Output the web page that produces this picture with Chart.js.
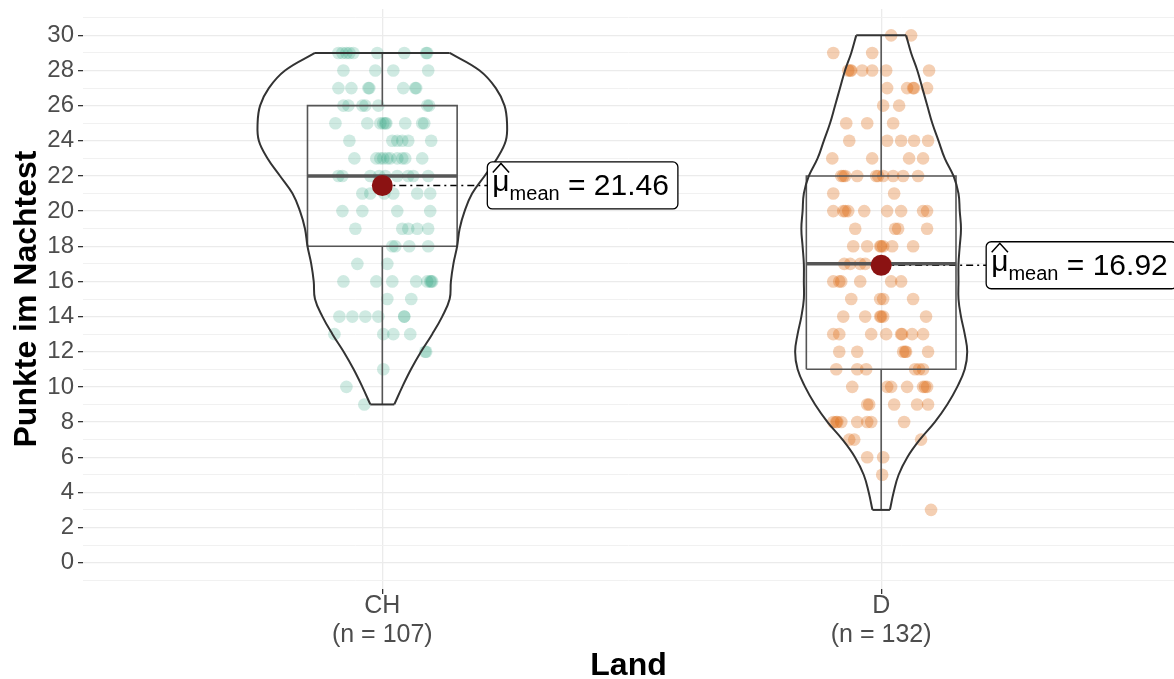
<!DOCTYPE html>
<html>
<head>
<meta charset="utf-8">
<script src="https://cdn.jsdelivr.net/npm/chart.js@4"></script>
<style>
  body { margin: 0; background: #fff; }
</style>
</head>
<body>
<canvas id="chart" width="1174" height="679"></canvas>
<script>
const categories = ["CH", "D"];
const groupSizes = [107, 132];
const means = [21.46, 16.92];
const yTickLabels = [0, 2, 4, 6, 8, 10, 12, 14, 16, 18, 20, 22, 24, 26, 28, 30];

// lower whisker, q1, median, q3, upper whisker
const chBox = [9, 18, 22, 26, 29];
const dBox = [3, 11, 17, 22, 30];

// violin outline: relative half-width read at each score
const chViolinY = [9, 10, 11, 12, 13, 14, 15, 16, 17, 18, 19, 20, 21, 22, 23, 24, 25, 26, 27, 28, 29];
const chViolinW = [0.096, 0.16, 0.23, 0.31, 0.40, 0.48, 0.54, 0.55, 0.57, 0.60, 0.62, 0.66, 0.72, 0.82, 0.92, 0.99, 1.0, 0.98, 0.91, 0.78, 0.54];
const dViolinY = [3, 4, 5, 6, 7, 8, 9, 10, 11, 12, 13, 14, 15, 16, 17, 18, 19, 20, 21, 22, 23, 24, 25, 26, 27, 28, 29, 30];
const dViolinW = [0.07, 0.10, 0.14, 0.21, 0.31, 0.43, 0.53, 0.61, 0.67, 0.69, 0.67, 0.64, 0.62, 0.62, 0.62, 0.63, 0.64, 0.63, 0.62, 0.58, 0.51, 0.46, 0.41, 0.37, 0.33, 0.29, 0.24, 0.20];

// jittered raw scores: [jitter in category units, score]
const chPoints = [
  [-0.088, 29], [-0.080, 29], [-0.072, 29], [-0.066, 29], [-0.058, 29], [-0.010, 29], [0.044, 29], [0.088, 29], [0.090, 29],
  [-0.078, 28], [-0.014, 28], [0.022, 28], [0.092, 28],
  [-0.088, 27], [-0.062, 27], [-0.028, 27], [-0.026, 27], [0.042, 27], [0.068, 27], [0.066, 27],
  [-0.078, 26], [-0.068, 26], [-0.040, 26], [-0.034, 26], [-0.008, 26], [0.090, 26], [0.094, 26],
  [-0.094, 25], [-0.030, 25], [-0.004, 25], [0.002, 25], [0.006, 25], [0.008, 25], [0.046, 25], [0.080, 25], [0.084, 25],
  [-0.066, 24], [0.020, 24], [0.030, 24], [0.040, 24], [0.052, 24], [0.098, 24],
  [-0.056, 23], [-0.012, 23], [-0.004, 23], [0.002, 23], [0.010, 23], [0.016, 23], [0.030, 23], [0.040, 23], [0.046, 23], [0.080, 23],
  [-0.088, 22], [-0.080, 22], [-0.024, 22], [-0.006, 22], [0.006, 22], [0.030, 22], [0.052, 22], [0.062, 22], [0.092, 22],
  [-0.040, 21], [-0.024, 21], [0.004, 21], [0.022, 21], [0.070, 21], [0.096, 21],
  [-0.080, 20], [-0.040, 20], [0.030, 20], [0.096, 20],
  [-0.054, 19], [0.040, 19], [0.052, 19], [0.070, 19], [0.092, 19],
  [0.020, 18], [0.026, 18], [0.054, 18], [0.092, 18],
  [-0.050, 17], [0.010, 17],
  [-0.078, 16], [-0.012, 16], [0.020, 16], [0.068, 16], [0.090, 16], [0.096, 16], [0.098, 16], [0.100, 16],
  [0.010, 15], [0.058, 15],
  [-0.086, 14], [-0.060, 14], [-0.034, 14], [-0.008, 14], [0.044, 14], [0.044, 14],
  [-0.096, 13], [0.002, 13], [0.022, 13], [0.056, 13],
  [0.088, 12], [0.086, 12],
  [0.002, 11],
  [-0.072, 10],
  [-0.036, 9]
];
const dPoints = [
  [0.020, 30], [0.060, 30],
  [-0.096, 29], [-0.018, 29],
  [-0.066, 28], [-0.062, 28], [-0.060, 28], [-0.038, 28], [-0.018, 28], [0.010, 28], [0.096, 28],
  [0.012, 27], [0.052, 27], [0.064, 27], [0.066, 27], [0.092, 27],
  [0.004, 26], [0.036, 26],
  [-0.070, 25], [-0.028, 25], [0.024, 25],
  [-0.064, 24], [0.012, 24], [0.040, 24], [0.066, 24], [0.094, 24],
  [-0.098, 23], [-0.018, 23], [0.056, 23], [0.084, 23],
  [-0.080, 22], [-0.076, 22], [-0.072, 22], [-0.048, 22], [-0.010, 22], [-0.006, 22], [0.004, 22], [0.024, 22], [0.044, 22], [0.074, 22],
  [-0.096, 21], [0.026, 21],
  [-0.096, 20], [-0.076, 20], [-0.072, 20], [-0.066, 20], [-0.034, 20], [0.012, 20], [0.040, 20], [0.084, 20], [0.092, 20],
  [-0.052, 19], [0.028, 19], [0.034, 19], [0.092, 19],
  [-0.056, 18], [-0.028, 18], [-0.002, 18], [0.000, 18], [0.004, 18], [0.022, 18], [0.064, 18],
  [-0.074, 17], [-0.062, 17], [-0.042, 17], [-0.032, 17], [-0.006, 17], [0.000, 17], [0.010, 17],
  [-0.096, 16], [-0.084, 16], [-0.080, 16], [-0.042, 16], [0.020, 16], [0.040, 16],
  [-0.060, 15], [-0.002, 15], [0.004, 15], [0.064, 15],
  [-0.076, 14], [-0.032, 14], [-0.002, 14], [0.000, 14], [0.004, 14], [0.090, 14],
  [-0.096, 13], [-0.084, 13], [-0.020, 13], [0.010, 13], [0.040, 13], [0.042, 13], [0.062, 13], [0.084, 13],
  [-0.084, 12], [-0.048, 12], [0.044, 12], [0.048, 12], [0.050, 12], [0.094, 12],
  [-0.090, 11], [-0.048, 11], [-0.030, 11], [0.068, 11], [0.076, 11], [0.084, 11],
  [-0.058, 10], [0.012, 10], [0.020, 10], [0.052, 10], [0.084, 10], [0.088, 10], [0.092, 10],
  [-0.028, 9], [-0.024, 9], [0.026, 9], [0.072, 9], [0.094, 9],
  [-0.096, 8], [-0.090, 8], [-0.088, 8], [-0.080, 8], [-0.048, 8], [-0.028, 8], [-0.020, 8], [0.046, 8],
  [-0.064, 7], [-0.054, 7], [0.080, 7],
  [-0.028, 6], [0.004, 6],
  [0.002, 5],
  [0.100, 3]
];

const FONT = "'Liberation Sans', Arial, Helvetica, sans-serif";
const VIOLIN_HALF = 0.25;
const BOX_HALF = 0.15;
const BOX_COLOR = "#555555";
const VIOLIN_COLOR = "#333333";
const MEAN_COLOR = "#8b1212";
const LABEL_OFFSET = 105; // px from mean point to label box

function line(data, width, color, order, tension) {
  return {
    type: "line",
    data: data,
    borderColor: color,
    borderWidth: width,
    pointRadius: 0,
    fill: false,
    tension: tension || 0,
    order: order,
  };
}

function groupDatasets(i, points, box, vy, vw, color) {
  const cx = i + 1;
  const [lo, q1, med, q3, hi] = box;
  const ds = [];
  ds.push({
    type: "scatter",
    data: points.map((p) => ({ x: cx + p[0], y: p[1] })),
    pointRadius: 6.3,
    pointBackgroundColor: color,
    pointBorderWidth: 0,
    order: 4,
  });
  ds.push(line([
    { x: cx - BOX_HALF, y: q1 }, { x: cx + BOX_HALF, y: q1 },
    { x: cx + BOX_HALF, y: q3 }, { x: cx - BOX_HALF, y: q3 },
    { x: cx - BOX_HALF, y: q1 },
  ], 1.6, BOX_COLOR, 3));
  ds.push(line([{ x: cx - BOX_HALF, y: med }, { x: cx + BOX_HALF, y: med }], 3.5, BOX_COLOR, 3));
  ds.push(line([{ x: cx, y: lo }, { x: cx, y: q1 }], 1.6, BOX_COLOR, 3));
  ds.push(line([{ x: cx, y: q3 }, { x: cx, y: hi }], 1.6, BOX_COLOR, 3));

  const left = vy.map((y, k) => ({ x: cx - vw[k] * VIOLIN_HALF, y: y }));
  const right = vy.map((y, k) => ({ x: cx + vw[k] * VIOLIN_HALF, y: y }));
  const n = vy.length - 1;
  ds.push(line(left, 2, VIOLIN_COLOR, 2, 0.4));
  ds.push(line(right, 2, VIOLIN_COLOR, 2, 0.4));
  ds.push(line([left[0], right[0]], 2, VIOLIN_COLOR, 2));
  ds.push(line([left[n], right[n]], 2, VIOLIN_COLOR, 2));

  ds.push({
    type: "scatter",
    data: [{ x: cx, y: means[i] }],
    pointRadius: 10.5,
    pointBackgroundColor: MEAN_COLOR,
    pointBorderWidth: 0,
    order: 0,
  });
  return ds;
}

const datasets = [].concat(
  groupDatasets(0, chPoints, chBox, chViolinY, chViolinW, "rgba(27,158,119,0.21)"),
  groupDatasets(1, dPoints, dBox, dViolinY, dViolinW, "rgba(217,95,2,0.30)")
);

const meanLabels = {
  id: "meanLabels",
  beforeDatasetsDraw(chart) {
    const { ctx, scales } = chart;
    ctx.save();
    ctx.strokeStyle = "#000";
    ctx.lineWidth = 1.5;
    ctx.setLineDash([7, 4, 2, 4]);
    means.forEach((m, i) => {
      const px = scales.x.getPixelForValue(i + 1);
      const py = scales.y.getPixelForValue(m);
      ctx.beginPath();
      ctx.moveTo(px, py);
      ctx.lineTo(px + LABEL_OFFSET, py);
      ctx.stroke();
    });
    ctx.restore();
  },
  afterDatasetsDraw(chart) {
    const { ctx, scales } = chart;
    const mainFont = "30px " + FONT;
    const subFont = "20px " + FONT;
    means.forEach((m, i) => {
      const left = scales.x.getPixelForValue(i + 1) + LABEL_OFFSET;
      const cy = scales.y.getPixelForValue(m);
      const valText = "= " + m.toFixed(2);
      ctx.save();
      ctx.font = mainFont;
      const wMu = ctx.measureText("\u03bc").width;
      const wVal = ctx.measureText(" " + valText).width;
      ctx.font = subFont;
      const wSub = ctx.measureText("mean").width;
      const w = 5 + wMu + wSub + wVal + 9;
      const h = 47;
      ctx.beginPath();
      ctx.roundRect(left, cy - h / 2, w, h, 5);
      ctx.fillStyle = "#fff";
      ctx.fill();
      ctx.lineWidth = 1.3;
      ctx.strokeStyle = "#000";
      ctx.stroke();

      ctx.fillStyle = "#000";
      ctx.textBaseline = "alphabetic";
      ctx.textAlign = "left";
      let x = left + 5;
      ctx.font = mainFont;
      ctx.fillText("\u03bc", x, cy + 6);
      // hat over mu
      ctx.beginPath();
      ctx.lineWidth = 1.5;
      ctx.moveTo(x + 0.5, cy - 13);
      ctx.lineTo(x + wMu / 2, cy - 22);
      ctx.lineTo(x + wMu - 0.5, cy - 13);
      ctx.stroke();
      x += wMu;
      ctx.font = subFont;
      ctx.fillText("mean", x, cy + 15);
      x += wSub;
      ctx.font = mainFont;
      ctx.fillText(" " + valText, x, cy + 10);
      ctx.restore();
    });
  },
};

new Chart(document.getElementById("chart"), {
  type: "scatter",
  data: { datasets: datasets },
  options: {
    responsive: false,
    animation: false,
    events: [],
    layout: { autoPadding: false, padding: { top: 9, right: 0, bottom: 0, left: 0 } },
    plugins: { legend: { display: false }, tooltip: { enabled: false } },
    scales: {
      x: {
        type: "linear",
        min: 0.4,
        max: 2.587,
        afterBuildTicks: (s) => {
          s.ticks = categories.map((c, k) => ({ value: k + 1 }));
        },
        afterFit: (s) => {
          s.height = 90;
          s.paddingLeft = 0;
          s.paddingRight = 0;
        },
        ticks: {
          autoSkip: false,
          maxRotation: 0,
          padding: -2,
          color: "#4d4d4d",
          font: { family: FONT, size: 25, lineHeight: 1.15 },
          callback: (v) => [categories[v - 1], "(n = " + groupSizes[v - 1] + ")"],
        },
        grid: { color: "#ebebeb", lineWidth: 1.3, tickLength: 5, tickColor: "#333" },
        border: { display: false },
        title: {
          display: true,
          text: "Land",
          color: "#000",
          font: { family: FONT, size: 32, weight: "bold" },
          padding: { top: 0, bottom: -6 },
        },
      },
      y: {
        min: -1.5,
        max: 31.5,
        afterBuildTicks: (s) => {
          const ticks = [];
          for (let v = -1; v <= 31; v++) ticks.push({ value: v });
          s.ticks = ticks;
        },
        afterFit: (s) => {
          s.width = 83;
          s.paddingTop = 0;
          s.paddingBottom = 0;
        },
        ticks: {
          autoSkip: false,
          padding: 4,
          color: "#4d4d4d",
          font: { family: FONT, size: 24 },
          callback: (v) => (yTickLabels.includes(v) ? String(v) : ""),
        },
        grid: {
          color: (c) => (c.tick && c.tick.value % 2 === 0 ? "#ebebeb" : "#f1f1f1"),
          lineWidth: (c) => (c.tick && c.tick.value % 2 === 0 ? 1.3 : 1),
          tickLength: 5,
          tickColor: (c) => (c.tick && yTickLabels.includes(c.tick.value) ? "#333" : "rgba(0,0,0,0)"),
        },
        border: { display: false },
        title: {
          display: true,
          text: "Punkte im Nachtest",
          color: "#000",
          font: { family: FONT, size: 32, weight: "bold" },
          padding: { top: 8, bottom: 0 },
        },
      },
    },
  },
  plugins: [meanLabels],
});
</script>
</body>
</html>
